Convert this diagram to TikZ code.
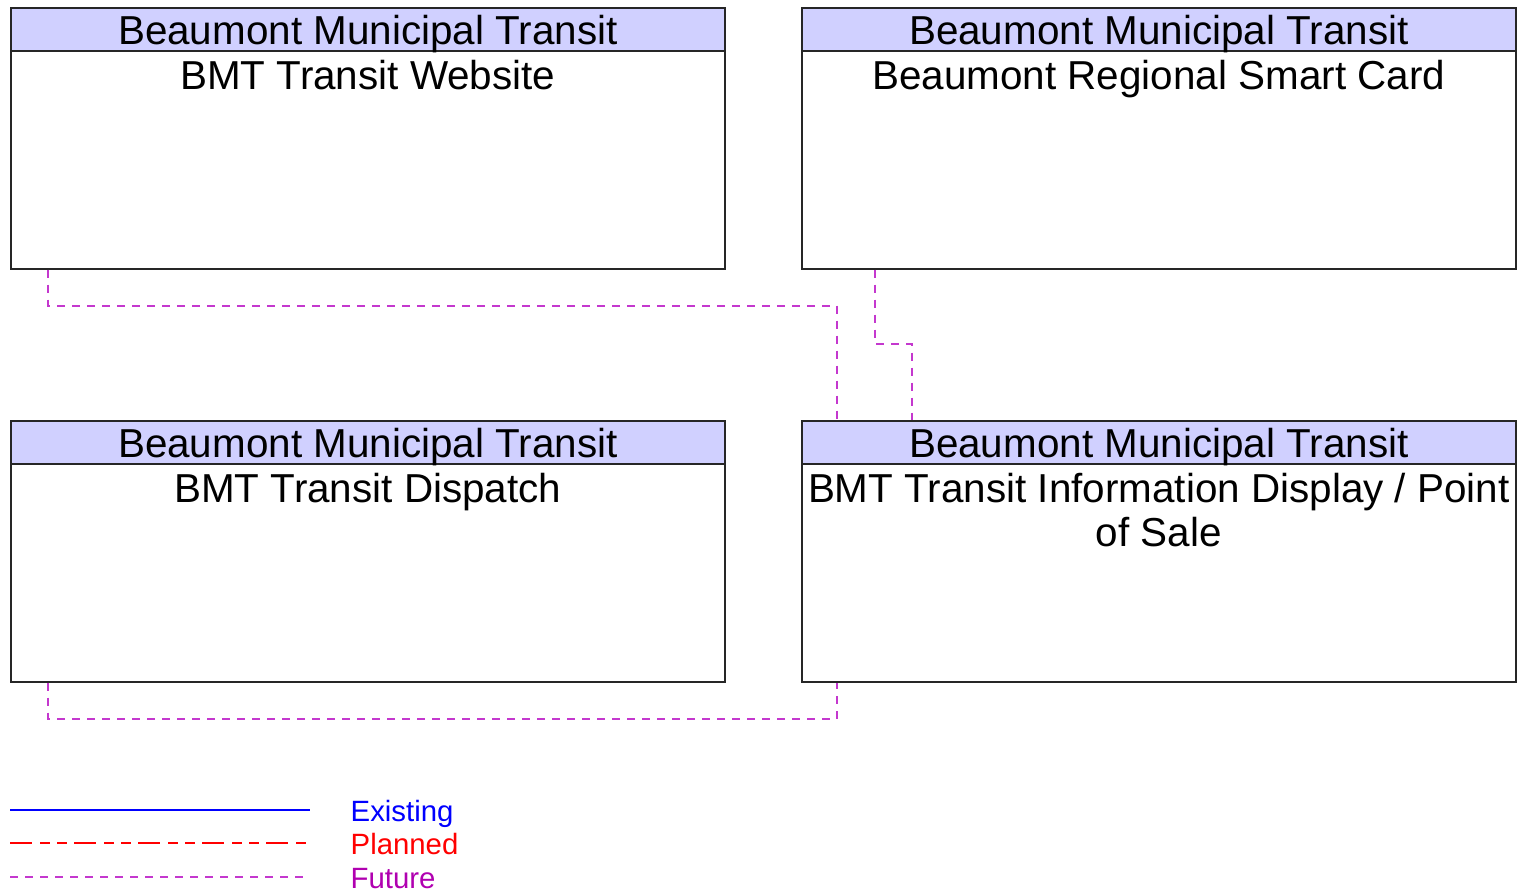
\documentclass[tikz,border=0pt]{standalone}
\usepackage{fontspec}
\setmainfont{Liberation Sans}
\usepackage{xcolor}
\usepackage{tikz}
\usetikzlibrary{positioning}
\usetikzlibrary{calc}
\definecolor{headblue}{RGB}{208,208,255}
\definecolor{futuremag}{RGB}{196,56,206}
\definecolor{futuretext}{RGB}{176,0,176}
\tikzstyle{sysbox}=[rectangle,draw=black!85,line width=0.45pt,minimum width=7.14cm,minimum height=2.61cm,inner sep=0pt,anchor=north west]
\tikzstyle{syshead}=[rectangle,draw=black!85,fill=headblue,line width=0.45pt,minimum width=7.14cm,minimum height=0.43cm,inner sep=0pt,anchor=north west]
\tikzstyle{headtext}=[font=\fontsize{11.5}{12.5}\selectfont,inner sep=0pt,anchor=base]
\tikzstyle{bodytext}=[font=\fontsize{11.5}{12.5}\selectfont,inner sep=0pt,align=center,anchor=north]
\tikzstyle{futureedge}=[draw=futuremag,line width=0.55pt,dash pattern=on 0.08cm off 0.07cm]
\tikzstyle{existingline}=[draw=blue,line width=0.8pt]
\tikzstyle{plannedline}=[draw=red,line width=0.35pt,dash pattern=on 0.22cm off 0.08cm on 0.10cm off 0.07cm on 0.10cm off 0.07cm]
\tikzstyle{legendtext}=[font=\fontsize{8.35}{9}\selectfont,inner sep=0pt,anchor=base west]

\begin{document}
\begin{tikzpicture}
    \useasboundingbox (0,0) rectangle (15.20,-8.92);
    % First we draw the systems
    \foreach \pos/\name/\label in {{(0.10,-0.07)/web/{BMT Transit Website}},
    {(8.01,-0.07)/card/{Beaumont Regional Smart Card}},
    {(0.10,-4.20)/disp/{BMT Transit Dispatch}},
    {(8.01,-4.20)/ids/{BMT Transit Information Display / Point\\of Sale}}}
    {
        \node[sysbox] (\name) at \pos {};
        \node[syshead] (\name-head) at (\name.north west) {};
        \node[headtext] (\name-title) at ($(\name-head.north)+(0,-0.375)$) {Beaumont Municipal Transit};
        \node[bodytext] (\name-text) at ($(\name-head.south)+(0,-0.075)$) {\label};
    }

    % Connect systems with future flows
    \foreach \source/\sx/\drop/\dest/\dx in {web.south west/0.38/0.36/ids.north west/0.36,
    card.south west/0.74/0.74/ids.north west/1.11,
    disp.south west/0.38/0.36/ids.south west/0.36}
        \path[futureedge] ([xshift=\sx cm]\source) -- ++(0,-\drop) -| ([xshift=\dx cm]\dest);

    % Legend
    \foreach \y/\name/\style/\col/\label in {8.10/existing/existingline/blue/Existing,
    8.43/planned/plannedline/red/Planned, 8.77/future/futureedge/futuretext/Future}
    {
        \coordinate (\name-a) at (0.10,-\y);
        \coordinate (\name-b) at (3.10,-\y);
        \path[\style] (\name-a) -- (\name-b);
        \node[legendtext,text=\col] (\name) at ($(\name-a)+(3.40,-0.11)$) {\label};
    }
\end{tikzpicture}
\end{document}
